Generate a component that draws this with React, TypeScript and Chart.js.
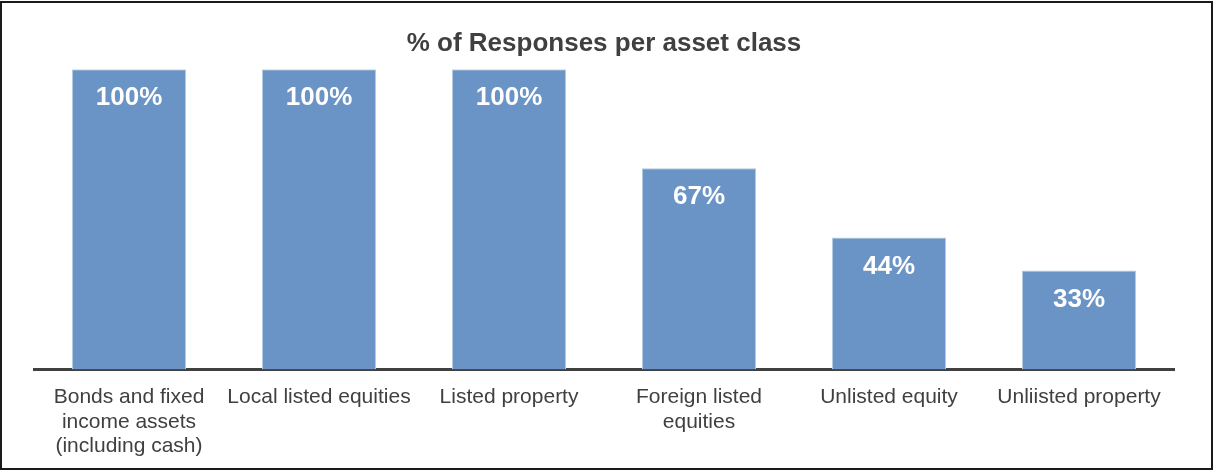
import React, { useEffect, useRef } from "react";
import { Chart, registerables } from "chart.js";

Chart.register(...registerables);

const categories: string[][] = [
  ["Bonds and fixed", "income assets", "(including cash)"],
  ["Local listed equities"],
  ["Listed property"],
  ["Foreign listed", "equities"],
  ["Unlisted equity"],
  ["Unliisted property"],
];
const responseShare: number[] = [100, 100, 100, 67, 44, 33];
const titleText = "% of Responses per asset class";

const FONT = "'Liberation Sans', Arial, sans-serif";

const valueLabels = {
  id: "valueLabels",
  afterDatasetsDraw(chart: Chart) {
    const { ctx } = chart;
    const meta = chart.getDatasetMeta(0);
    ctx.save();
    ctx.fillStyle = "#ffffff";
    ctx.font = `bold 26px ${FONT}`;
    ctx.textAlign = "center";
    ctx.textBaseline = "middle";
    meta.data.forEach((bar: any, i: number) => {
      ctx.fillText(`${responseShare[i]}%`, bar.x, bar.y + 29);
    });
    ctx.restore();
  },
};

export default function App() {
  const canvasRef = useRef<HTMLCanvasElement | null>(null);

  useEffect(() => {
    document.body.style.margin = "0";
    const chart = new Chart(canvasRef.current!, {
      type: "bar",
      data: {
        labels: categories,
        datasets: [
          {
            data: responseShare,
            backgroundColor: "#6a93c6",
            borderColor: "#b4c9e4",
            borderWidth: 1,
            categoryPercentage: 0.6,
            barPercentage: 1,
          },
        ],
      },
      options: {
        animation: false,
        responsive: false,
        maintainAspectRatio: false,
        layout: { padding: { left: 34, right: 41, top: 0, bottom: 6 } },
        plugins: {
          legend: { display: false },
          tooltip: { enabled: false },
          title: {
            display: true,
            text: titleText,
            color: "#404040",
            font: { family: FONT, size: 26, weight: "bold" },
            padding: { top: 28, bottom: 10 },
          },
        },
        scales: {
          x: {
            grid: { display: false },
            border: { display: true, color: "#404040", width: 3 },
            ticks: {
              color: "#404040",
              font: { family: FONT, size: 21, lineHeight: 1.15 },
              padding: 8,
              maxRotation: 0,
              autoSkip: false,
            },
          },
          y: {
            display: false,
            min: 0,
            max: 100,
          },
        },
      },
      plugins: [valueLabels],
    });
    return () => chart.destroy();
  }, []);

  return (
    <div style={{ position: "relative", width: 1215, height: 472, background: "#fff" }}>
      <canvas ref={canvasRef} width={1215} height={472} style={{ display: "block" }} />
      <div
        style={{
          position: "absolute",
          left: 0,
          top: 1,
          width: 1213,
          height: 469,
          border: "2px solid #1a1a1a",
          boxSizing: "border-box",
          pointerEvents: "none",
        }}
      />
    </div>
  );
}
